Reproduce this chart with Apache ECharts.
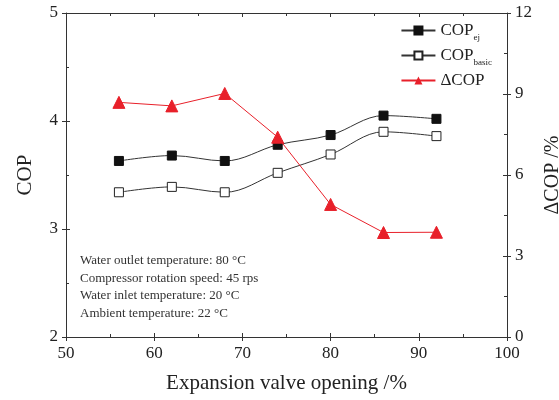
<!DOCTYPE html>
<html><head><meta charset="utf-8">
<script src="https://cdn.jsdelivr.net/npm/echarts@6/dist/echarts.min.js"></script>
<style>html,body{margin:0;padding:0;background:#fff}#c{width:559px;height:400px}</style>
</head><body><div id="c"></div>
<script>
const openings = [56, 62, 68, 74, 80, 86, 92];
const copEj = [3.63, 3.68, 3.63, 3.78, 3.87, 4.05, 4.02];
const copBasic = [3.34, 3.39, 3.34, 3.52, 3.69, 3.90, 3.86];
const deltaCop = [8.69, 8.56, 9.02, 7.40, 4.91, 3.87, 3.88];
const xTicks = [50, 60, 70, 80, 90, 100];
const leftTicks = [2, 3, 4, 5];
const rightTicks = [0, 3, 6, 9, 12];
const notes = ['Water outlet temperature: 80 \u00b0C','Compressor rotation speed: 45 rps','Water inlet temperature: 20 \u00b0C','Ambient temperature: 22 \u00b0C'];

const F = '"Liberation Serif", "Times New Roman", serif';
const chart = echarts.init(document.getElementById('c'));
const axLine = {show:true, lineStyle:{color:'#333', width:1}};
const tickIn = {show:true, inside:true, length:4, lineStyle:{color:'#333'}};
const tickOut = {show:true, inside:false, length:4, lineStyle:{color:'#333'}};
const minor = {show:true, splitNumber:2, length:3, lineStyle:{color:'#333'}};
const noLabel = {show:false};
const lab = {fontFamily:F, fontSize:17, color:'#222', margin:8};
const pair = a => openings.map((x,i)=>[x,a[i]]);
const xMin = xTicks[0], xMax = xTicks[xTicks.length-1];
const lMin = leftTicks[0], lMax = leftTicks[leftTicks.length-1];
const rMin = rightTicks[0], rMax = rightTicks[rightTicks.length-1];
chart.setOption({
  animation:false,
  grid:{left:66, right:52, top:13, bottom:63, outerBoundsMode:'none', containLabel:false},
  legend:{
    orient:'vertical', right:62, top:17, itemGap:5, itemWidth:34, itemHeight:10,
    textStyle:{fontFamily:F, fontSize:17, color:'#222',
      rich:{m:{fontFamily:F, fontSize:17, color:'#222'}, s:{fontFamily:F, fontSize:9, color:'#222', padding:[14,0,0,0]}}},
    formatter: n => n==='COPej' ? '{m|COP}{s|ej}' : n==='COPbasic' ? '{m|COP}{s|basic}' : '{m|\u0394COP}',
    data:['COPej','COPbasic','\u0394COP']
  },
  xAxis:[
    {type:'value', min:xMin, max:xMax, interval:10, position:'bottom',
     axisLine:axLine, axisTick:tickIn, minorTick:minor, splitLine:{show:false},
     axisLabel:lab,
     name:'Expansion valve opening /%', nameLocation:'middle', nameGap:36,
     nameTextStyle:{fontFamily:F, fontSize:21, color:'#222'}},
    {type:'value', min:xMin, max:xMax, interval:10, position:'bottom',
     axisLine:{show:false}, axisTick:tickOut, splitLine:{show:false}, axisLabel:noLabel},
    {type:'value', min:xMin, max:xMax, interval:10, position:'top',
     axisLine:axLine, axisTick:tickIn, minorTick:minor, splitLine:{show:false}, axisLabel:noLabel}
  ],
  yAxis:[
    {type:'value', min:lMin, max:lMax, interval:1, position:'left',
     axisLine:axLine, axisTick:tickIn, minorTick:minor, splitLine:{show:false},
     axisLabel:lab,
     name:'COP', nameLocation:'middle', nameGap:30, nameRotate:90,
     nameTextStyle:{fontFamily:F, fontSize:21, color:'#222'}},
    {type:'value', min:rMin, max:rMax, interval:3, position:'right',
     axisLine:axLine, axisTick:tickIn, minorTick:minor, splitLine:{show:false},
     axisLabel:lab,
     name:'\u0394COP /%', nameLocation:'middle', nameGap:25, nameRotate:90,
     nameTextStyle:{fontFamily:F, fontSize:20, color:'#222'}},
    {type:'value', min:lMin, max:lMax, interval:1, position:'left',
     axisLine:{show:false}, axisTick:tickOut, splitLine:{show:false}, axisLabel:noLabel},
    {type:'value', min:rMin, max:rMax, interval:3, position:'right',
     axisLine:{show:false}, axisTick:tickOut, splitLine:{show:false}, axisLabel:noLabel}
  ],
  series:[
    {name:'COPej', type:'line', xAxisIndex:0, yAxisIndex:0, data:pair(copEj), smooth:0.35,
     symbol:'rect', symbolSize:9, lineStyle:{color:'#333', width:1},
     itemStyle:{color:'#111', borderColor:'#111', borderWidth:1}, z:3},
    {name:'COPbasic', type:'line', xAxisIndex:0, yAxisIndex:0, data:pair(copBasic), smooth:0.35,
     symbol:'rect', symbolSize:9, lineStyle:{color:'#333', width:1},
     itemStyle:{color:'#fff', borderColor:'#222', borderWidth:1}, z:3},
    {name:'\u0394COP', type:'line', xAxisIndex:0, yAxisIndex:1, data:pair(deltaCop),
     symbol:'triangle', symbolSize:12, lineStyle:{color:'#e8202a', width:1},
     itemStyle:{color:'#e8202a', borderColor:'#e8202a'}, z:4}
  ],
  graphic:[{type:'text', left:80, top:252,
    style:{text:notes.join('\n'), font:'13px "Liberation Serif", serif', fill:'#333', lineHeight:17.5}}]
});
</script></body></html>
